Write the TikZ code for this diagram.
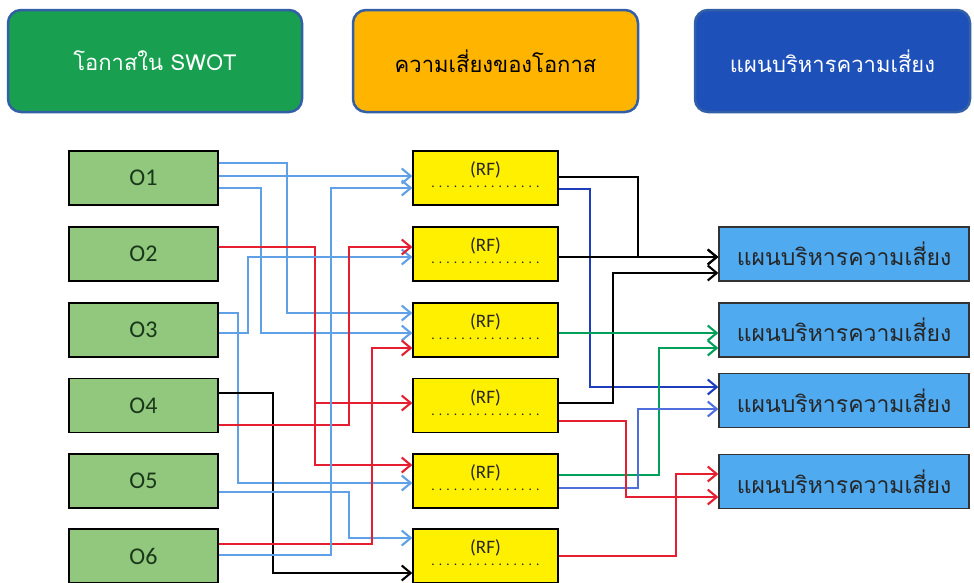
\documentclass[tikz,border=0pt]{standalone}
\usepackage{fontspec}
\setmainfont{Carlito}
\newfontfamily\thaifont[Script=Thai]{Loma}
\usetikzlibrary{arrows.meta}
\definecolor{hgreen}{RGB}{24,160,80}
\definecolor{horange}{RGB}{255,180,0}
\definecolor{hblue}{RGB}{30,80,185}
\definecolor{hborder}{RGB}{50,95,165}
\definecolor{ogreen}{RGB}{146,200,126}
\definecolor{otext}{RGB}{25,55,25}
\definecolor{rfyellow}{RGB}{255,240,0}
\definecolor{rbox}{RGB}{80,170,240}
\definecolor{lbl}{RGB}{95,160,230}
\definecolor{lred}{RGB}{230,30,50}
\definecolor{lgreen}{RGB}{0,160,90}
\definecolor{ldblue}{RGB}{30,60,190}
\definecolor{lmblue}{RGB}{80,110,220}
\newcommand{\rfdots}{{\fontsize{13.5}{11}\selectfont . . . . . . . . . . . . . . .}}
\tikzset{
  hdr/.style={draw=hborder, line width=2.5pt, rounded corners=13pt, minimum width=#1, minimum height=102pt, inner sep=0pt, font=\thaifont\fontsize{22}{26}\selectfont},
  obox/.style={draw=black, line width=1.3pt, fill=ogreen, minimum width=149pt, minimum height=54pt, inner sep=0pt, text=otext, font=\fontsize{24}{28}\selectfont},
  rfbox/.style={draw=black, line width=1.3pt, fill=rfyellow, minimum width=145pt, minimum height=54pt, inner sep=0pt, align=center, text depth=6pt, text=black!85, font=\fontsize{19}{12}\selectfont},
  rbox/.style={draw=black!80, line width=1.3pt, fill=rbox, minimum width=250pt, minimum height=54pt, inner sep=0pt, text=black!85, font=\thaifont\fontsize{23}{28}\selectfont},
  conn/.style={line width=2.1pt, -{Straight Barb[length=9pt,width=15pt]}},
}
\begin{document}
\begin{tikzpicture}[x=1pt,y=-1pt]
\useasboundingbox (0,0) rectangle (974,582);
% headers
\node[hdr=294pt, fill=hgreen, text=white] (h1) at (155,61) {โอกาสใน SWOT};
\node[hdr=285pt, fill=horange, text=black] (h2) at (495.5,61) {ความเสี่ยงของโอกาส};
\node[hdr=275pt, fill=hblue, text=white] (h3) at (832.5,61) {แผนบริหารความเสี่ยง};
% opportunity boxes
\node[obox] (o1) at (143.5,178) {O1};
\node[obox] (o2) at (143.5,254) {O2};
\node[obox] (o3) at (143.5,330) {O3};
\node[obox] (o4) at (143.5,405.5) {O4};
\node[obox] (o5) at (143.5,481) {O5};
\node[obox] (o6) at (143.5,556) {O6};
% risk factor boxes
\foreach \n/\y in {1/178,2/254,3/330,4/405.5,5/481,6/556}{
  \node[rfbox] (rf\n) at (485.5,\y) {(RF)\\\rfdots};
}
% plan boxes
\node[rbox] (r1) at (844,254) {แผนบริหารความเสี่ยง};
\node[rbox] (r2) at (844,330) {แผนบริหารความเสี่ยง};
\node[rbox] (r3) at (844,400.5) {แผนบริหารความเสี่ยง};
\node[rbox] (r4) at (844,481.5) {แผนบริหารความเสี่ยง};
% left connectors
\draw[conn, lbl] (o1.east |- 0,163) -| (287,313) -- (rf3.west |- 0,313);
\draw[conn, lbl] (o1.east |- 0,176) -- (rf1.west |- 0,176);
\draw[conn, lbl] (o1.east |- 0,188) -| (261,333) -- (rf3.west |- 0,333);
\draw[conn, lred] (o2.east |- 0,247) -| (315,403) -- (rf4.west |- 0,403);
\draw[conn, lred] (o2.east |- 0,247) -| (315,465) -- (rf5.west |- 0,465);
\draw[conn, lbl] (o3.east |- 0,313) -| (238,483) -- (rf5.west |- 0,483);
\draw[conn, lbl] (o3.east |- 0,333) -| (248,257) -- (rf2.west |- 0,257);
\draw[conn, black] (o4.east |- 0,393) -| (273,573) -- (rf6.west |- 0,573);
\draw[conn, lred] (o4.east |- 0,425) -| (349,247) -- (rf2.west |- 0,247);
\draw[conn, lbl] (o5.east |- 0,492) -| (349,538) -- (rf6.west |- 0,538);
\draw[conn, lred] (o6.east |- 0,544) -| (372,348) -- (rf3.west |- 0,348);
\draw[conn, lbl] (o6.east |- 0,555) -| (331,188) -- (rf1.west |- 0,188);
% right connectors
\draw[conn, black] (rf1.east |- 0,177) -| (638,257) -- (r1.west |- 0,257);
\draw[conn, ldblue] (rf1.east |- 0,189) -| (590,387) -- (r3.west |- 0,387);
\draw[conn, black] (rf2.east |- 0,257) -- (r1.west |- 0,257);
\draw[conn, black] (rf4.east |- 0,403) -| (613,273) -- (r1.west |- 0,273);
\draw[conn, lgreen] (rf3.east |- 0,333) -- (r2.west |- 0,333);
\draw[conn, lgreen] (rf5.east |- 0,475) -| (659,348) -- (r2.west |- 0,348);
\draw[conn, lmblue] (rf5.east |- 0,488) -| (638,409) -- (r3.west |- 0,409);
\draw[conn, lred] (rf4.east |- 0,421) -| (626,497) -- (r4.west |- 0,497);
\draw[conn, lred] (rf6.east |- 0,556) -| (676,474) -- (r4.west |- 0,474);
\end{tikzpicture}
\end{document}
